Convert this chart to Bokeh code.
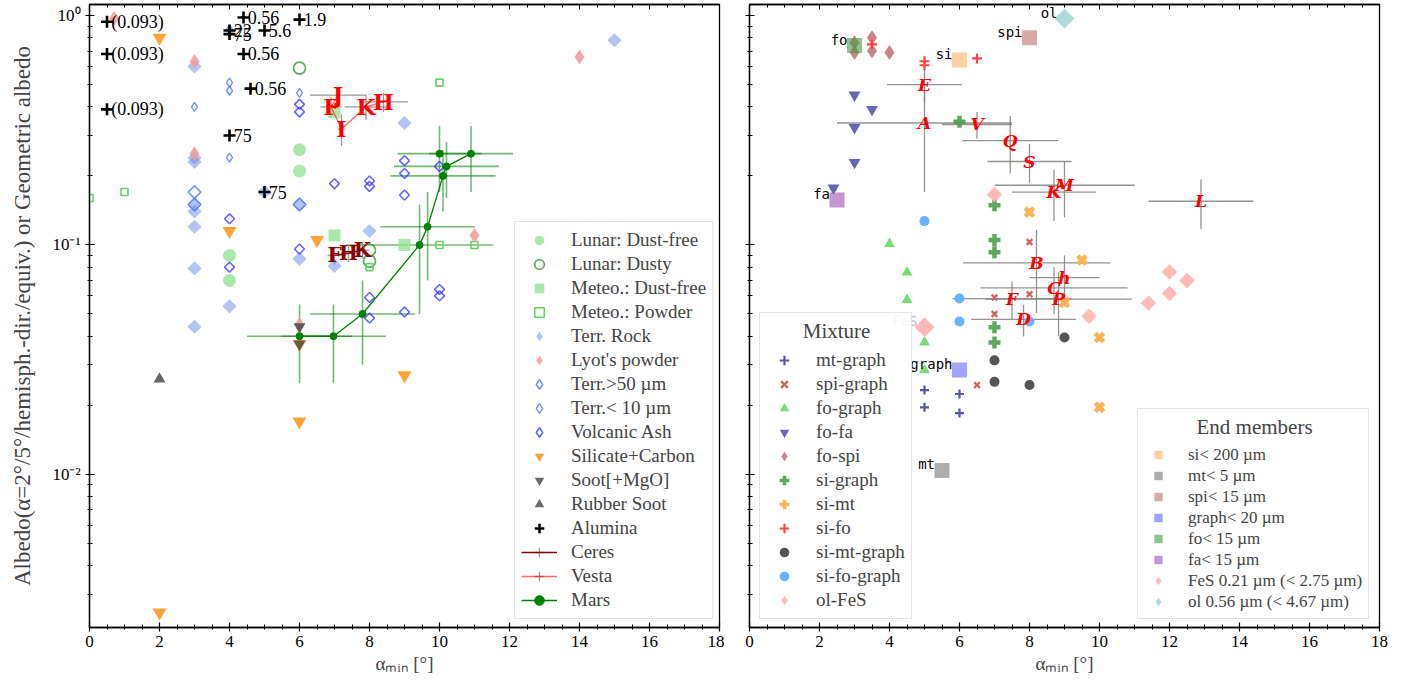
import numpy as np
from bokeh.plotting import figure
from bokeh.models import (Range1d, FixedTicker, SingleIntervalTicker, LinearAxis, Legend, LegendItem,
                          CustomLabelingPolicy)
from bokeh.layouts import row
from bokeh.embed import file_html
from bokeh.resources import INLINE
from bokeh.core.properties import value

SERIF = "Liberation Serif"
MONO = "DejaVu Sans Mono"
NB = "\u00a0"

X_MIN, X_MAX = 0, 18
Y_MIN, Y_MAX = 0.00215, 1.117
MAJOR_Y = [0.01, 0.1, 1.0]
Y_LABELS = ["10⁻²", "10⁻¹", "10⁰"]

# ---------------- left panel data ----------------
lunar_df_x = [6, 6, 4, 4]
lunar_df_y = [0.26, 0.21, 0.09, 0.07]
lunar_dusty_x = [6, 8, 8]
lunar_dusty_y = [0.59, 0.095, 0.085]
meteo_df_x = [7, 9, 7]
meteo_df_y = [0.11, 0.10, 0.38]
meteo_pw_x = [0, 1, 10, 10, 11, 8]
meteo_pw_y = [0.16, 0.17, 0.51, 0.10, 0.10, 0.08]
terr_rock_x = [3, 3, 3, 3, 3, 3, 3, 3, 4, 5, 6, 6, 7, 8, 9, 15]
terr_rock_y = [0.60, 0.24, 0.23, 0.15, 0.14, 0.12, 0.079, 0.044, 0.054, 0.17, 0.15, 0.087, 0.081, 0.115, 0.34, 0.78]
lyot_x = [0.7, 3, 3, 6, 11, 14]
lyot_y = [0.97, 0.63, 0.25, 0.045, 0.11, 0.66]
terr50_x = [3, 3, 6]
terr50_y = [0.17, 0.15, 0.15]
terr10_x = [4, 4, 4, 4, 3, 6]
terr10_y = [0.87, 0.51, 0.47, 0.24, 0.40, 0.46]
ash_x = [4, 4, 6, 6, 6, 7, 8, 8, 8, 8, 9, 9, 9, 9, 10, 10, 10]
ash_y = [0.13, 0.08, 0.41, 0.38, 0.096, 0.185, 0.19, 0.18, 0.059, 0.048, 0.233, 0.205, 0.165, 0.051, 0.22, 0.064, 0.060]
silcarb_x = [2, 2, 4, 6.5, 6, 9, 6]
silcarb_y = [0.80, 0.0025, 0.115, 0.105, 0.017, 0.027, 0.037]
soot_x = [6, 6]
soot_y = [0.044, 0.037]
rubber_x = [2]
rubber_y = [0.026]
alumina_x = [0.5, 0.5, 0.5, 4.4, 4.0, 4.0, 5.0, 4.4, 4.6, 4.0, 5.0, 6.0]
alumina_y = [0.94, 0.68, 0.39, 0.98, 0.86, 0.83, 0.86, 0.68, 0.48, 0.30, 0.17, 0.96]
alumina_lab = ["(0.093)", "(0.093)", "(0.093)", "0.56", "22", "75", "5.6", "0.56", "0.56", "75", "75", "1.9"]

mars_x = [6.0, 6.97, 7.8, 9.43, 9.66, 10.1, 10.2, 10.9]
mars_y = [0.040, 0.040, 0.050, 0.100, 0.120, 0.200, 0.220, 0.250]
mars_xerr = [1.5, 1.5, 1.5, 2.1, 1.35, 1.5, 1.5, 1.2]
mars_yerr = [0.015, 0.015, 0.02, 0.05, 0.05, 0.06, 0.06, 0.08]
mars2_x = [10.0]
mars2_y = [0.250]
mars2_xerr = [1.2]
mars2_yerr = [0.08]

ceres_lab = ["F", "H", "K"]
ceres_x = [7.0, 7.4, 7.8]
ceres_y = [0.090, 0.092, 0.095]
ceres_xerr = [0.2, 0.2, 0.2]
ceres_yerr = [0.008, 0.008, 0.008]

vesta_lab = ["J", "F", "I", "K", "H"]
vesta_x = [7.1, 6.9, 7.2, 7.9, 8.4]
vesta_y = [0.45, 0.40, 0.32, 0.40, 0.42]
vesta_xerr = [0.8, 0.3, 0.1, 0.6, 0.7]
vesta_yerr = [0.02, 0.04, 0.05, 0.05, 0.04]

# ---------------- right panel data ----------------
mtgraph_x = [5.0, 5.0, 6.0, 6.0]
mtgraph_y = [0.0233, 0.0196, 0.0224, 0.0185]
spigraph_x = [6.5, 7.0, 7.0, 8.0, 8.0]
spigraph_y = [0.0245, 0.059, 0.050, 0.103, 0.061]
fograph_x = [4.0, 4.5, 4.5, 5.0, 5.0]
fograph_y = [0.101, 0.076, 0.0577, 0.0376, 0.0285]
fofa_x = [3.0, 3.5, 3.0, 3.0, 2.4]
fofa_y = [0.45, 0.39, 0.325, 0.229, 0.177]
fospi_x = [3.0, 3.0, 3.5, 3.5, 4.0]
fospi_y = [0.76, 0.69, 0.80, 0.70, 0.69]
sigraph_x = [6.0, 7.0, 7.0, 7.0, 7.0, 7.0]
sigraph_y = [0.344, 0.149, 0.105, 0.093, 0.0438, 0.0376]
simt_x = [8.0, 9.5, 9.0, 10.0, 10.0]
simt_y = [0.139, 0.086, 0.0561, 0.0395, 0.0196]
sifo_x = [3.5, 5.0, 5.0, 6.5]
sifo_y = [0.749, 0.632, 0.607, 0.65]
simtgraph_x = [7.0, 7.0, 8.0, 9.0]
simtgraph_y = [0.0314, 0.0253, 0.0245, 0.0395]
sifograph_x = [5.0, 6.0, 6.0, 8.0]
sifograph_y = [0.127, 0.0584, 0.0464, 0.0464]
olfes_x = [7.0, 9.7, 11.4, 12.0, 12.0, 12.5]
olfes_y = [0.166, 0.0489, 0.0558, 0.0763, 0.0614, 0.0699]

ast_lab = ["E", "A", "V", "Q", "S", "K", "M", "L", "B", "h", "C", "P", "F", "D"]
ast_x = [5.0, 5.0, 6.5, 7.45, 8.0, 8.7, 9.0, 12.9, 8.2, 9.0, 8.7, 8.83, 7.5, 7.83]
ast_y = [0.50, 0.34, 0.335, 0.285, 0.231, 0.17, 0.182, 0.155, 0.0835, 0.072, 0.065, 0.058, 0.0584, 0.0474]
ast_xerr = [1.07, 2.5, 1.0, 1.37, 1.2, 1.2, 2.0, 1.5, 2.1, 1.0, 2.1, 2.1, 1.7, 1.5]
ast_yerr = [0.08, 0.17, 0.045, 0.08, 0.045, 0.043, 0.05, 0.038, 0.033, 0.018, 0.015, 0.018, 0.011, 0.0075]

em_lab = ["si", "mt", "spi", "graph", "fo", "fa"]
em_legend = ["si< 200 µm", "mt< 5 µm", "spi< 15 µm", "graph< 20 µm", "fo< 15 µm", "fa< 15 µm"]
em_x = [6.0, 5.5, 8.0, 6.0, 3.0, 2.5]
em_y = [0.64, 0.0104, 0.80, 0.0285, 0.74, 0.157]
em_colors = ["#ffb060", "#777777", "#c07070", "#6666ff", "#449944", "#a050b0"]
fes_x, fes_y = [5.0], [0.0438]
ol_x, ol_y = [9.0], [0.97]

# ---------------------------------------------------------------
MINOR_Y = [k * 10.0 ** e for e in (-3, -2, -1, 0) for k in range(2, 10) if Y_MIN <= k * 10.0 ** e <= Y_MAX]
NO_LABELS = "for (const i of indices) { indices.unset(i) }\nreturn indices"


def base_fig(min_left, min_right, show_y):
    p = figure(frame_width=630, frame_height=623,
               x_range=Range1d(X_MIN, X_MAX), y_range=Range1d(Y_MIN, Y_MAX),
               y_axis_type="log", output_backend="svg", toolbar_location=None,
               min_border_left=min_left, min_border_right=min_right,
               min_border_top=3, min_border_bottom=50)
    p.grid.visible = False
    p.outline_line_color = "black"
    p.outline_line_width = 1.3
    p.xaxis.ticker = SingleIntervalTicker(interval=2, num_minor_ticks=4)
    p.yaxis.ticker = FixedTicker(ticks=MAJOR_Y, minor_ticks=MINOR_Y)
    p.yaxis.major_label_overrides = {t: l for t, l in zip(MAJOR_Y, Y_LABELS)}
    for ax in (p.xaxis[0], p.yaxis[0]):
        ax.major_tick_in = 5
        ax.major_tick_out = 4
        ax.minor_tick_in = 3
        ax.minor_tick_out = 2
        ax.major_tick_line_width = 1.2
        ax.axis_line_width = 1.3
        ax.major_label_text_font = SERIF
        ax.major_label_text_font_size = "17px"
        ax.major_label_text_color = "black"
        ax.axis_label_text_font = SERIF
        ax.axis_label_text_font_size = "19px"
        ax.axis_label_text_font_style = "normal"
    p.xaxis.axis_label = "αₘᵢₙ [°]"
    p.xaxis.major_label_standoff = 4
    p.xaxis.axis_label_standoff = 3
    if show_y:
        p.yaxis.axis_label = "Albedo(α=2°/5°/hemisph.-dir./equiv.) or Geometric albedo"
        p.yaxis.axis_label_text_font_size = "23px"
        p.yaxis.axis_label_standoff = 14
    else:
        p.yaxis.major_label_policy = CustomLabelingPolicy(code=NO_LABELS)
        p.yaxis.major_label_text_font_size = "1px"
        p.yaxis.major_label_standoff = 0
    top = LinearAxis(ticker=SingleIntervalTicker(interval=2, num_minor_ticks=4),
                     major_label_policy=CustomLabelingPolicy(code=NO_LABELS),
                     major_label_text_font_size="1px", major_label_standoff=0,
                     major_tick_in=5, major_tick_out=0, minor_tick_in=3, minor_tick_out=0,
                     axis_line_width=1.3)
    p.add_layout(top, "above")
    return p


def errbars(p, x, y, xerr, yerr, color, alpha, width):
    x = np.asarray(x, float); y = np.asarray(y, float)
    xe = np.asarray(xerr, float); ye = np.asarray(yerr, float)
    p.segment(x0=x - xe, y0=y, x1=x + xe, y1=y, line_color=color, line_alpha=alpha, line_width=width)
    return p.segment(x0=x, y0=y - ye, x1=x, y1=y + ye, line_color=color, line_alpha=alpha, line_width=width)


def style_legend(lg, gh, fs):
    lg.label_text_font = SERIF
    lg.label_text_font_size = fs
    lg.glyph_height = gh
    lg.glyph_width = 36
    lg.label_height = gh
    lg.spacing = 0
    lg.padding = 6
    lg.margin = 0
    lg.label_standoff = 14
    lg.border_line_color = "#cccccc"
    lg.border_line_width = 1.3
    lg.background_fill_alpha = 0.85
    lg.title_text_font = SERIF
    lg.title_text_font_size = "21px"
    lg.title_text_font_style = "normal"
    lg.title_standoff = 4


# =================== LEFT ===================
p1 = base_fig(89, 5, True)

errbars(p1, mars_x, mars_y, mars_xerr, mars_yerr, "green", 0.55, 1.6)
errbars(p1, mars2_x, mars2_y, mars2_xerr, mars2_yerr, "green", 0.55, 1.6)
errbars(p1, vesta_x, vesta_y, vesta_xerr, vesta_yerr, "grey", 0.8, 1.3)
errbars(p1, ceres_x, ceres_y, ceres_xerr, ceres_yerr, "grey", 0.8, 1.3)

r_lunar_df = p1.scatter(lunar_df_x, lunar_df_y, marker="circle", size=13, fill_color="#8fe08f", fill_alpha=0.75, line_color=None)
r_lunar_dusty = p1.scatter(lunar_dusty_x, lunar_dusty_y, marker="circle", size=12, fill_color=None, line_color="#3a9a3a", line_alpha=0.8, line_width=1.8)
r_meteo_df = p1.scatter(meteo_df_x, meteo_df_y, marker="square", size=12, fill_color="#8fe08f", fill_alpha=0.75, line_color=None)
r_meteo_pw = p1.scatter(meteo_pw_x, meteo_pw_y, marker="square", size=7, fill_color=None, line_color="#66d066", line_width=1.6)
p1.scatter(terr_rock_x, terr_rock_y, marker="square", angle=np.pi / 4, size=10, fill_color="#6688ee", fill_alpha=0.5, line_color=None)
r_lyot = p1.scatter(lyot_x, lyot_y, marker="diamond", size=15, fill_color="#f29b9b", fill_alpha=0.85, line_color=None)
p1.scatter(terr50_x, terr50_y, marker="square", angle=np.pi / 4, size=9, fill_color=None, line_color="#5577ee", line_alpha=0.8, line_width=1.6)
r_terr10 = p1.scatter(terr10_x, terr10_y, marker="diamond", size=9, fill_color=None, line_color="#5577ee", line_alpha=0.8, line_width=1.4)
p1.scatter(ash_x, ash_y, marker="square", angle=np.pi / 4, size=7, fill_color=None, line_color="#3333ff", line_alpha=0.75, line_width=1.6)
r_silcarb = p1.scatter(silcarb_x, silcarb_y, marker="inverted_triangle", size=14, fill_color="#ff9922", fill_alpha=0.9, line_color=None)
r_soot = p1.scatter(soot_x, soot_y, marker="inverted_triangle", size=12, fill_color="#444444", fill_alpha=0.8, line_color=None)
r_rubber = p1.scatter(rubber_x, rubber_y, marker="triangle", size=12, fill_color="#444444", fill_alpha=0.8, line_color=None)
r_alumina = p1.scatter(alumina_x, alumina_y, marker="cross", size=12, line_color="black", line_width=2.6)
p1.text(np.asarray(alumina_x) + 0.12, alumina_y, text=alumina_lab, text_font=value(SERIF),
        text_font_size="18px", text_align="left", text_baseline="middle", text_color="black")

# legend-only glyphs: same data, zero size in the plot (legend draws markers at its own size)
lg_terr_rock = p1.scatter(terr_rock_x, terr_rock_y, marker="diamond", size=0, fill_color="#6688ee", fill_alpha=0.5, line_color=None)
lg_terr50 = p1.scatter(terr50_x, terr50_y, marker="diamond", size=0, fill_color=None, line_color="#5577ee", line_alpha=0.8, line_width=1.6)
lg_ash = p1.scatter(ash_x, ash_y, marker="diamond", size=0, fill_color=None, line_color="#3333ff", line_alpha=0.75, line_width=1.6)
lg_ceres = p1.scatter(ceres_x, ceres_y, marker="cross", size=0, line_color="grey", line_alpha=0.8, line_width=1.3)
lg_vesta = p1.scatter(vesta_x, vesta_y, marker="cross", size=0, line_color="grey", line_alpha=0.8, line_width=1.3)
lg_mars = p1.scatter(mars_x, mars_y, marker="cross", size=0, line_color="green", line_alpha=0.6, line_width=1.5)

r_mars_line = p1.line(mars_x, mars_y, line_color="green", line_width=1.3)
r_mars_pts = p1.scatter(mars_x, mars_y, marker="circle", size=7, fill_color="green", line_color="green")
p1.scatter(mars2_x, mars2_y, marker="circle", size=7, fill_color="green", line_color="green")

r_vesta_line = p1.line(vesta_x, vesta_y, line_color="red", line_alpha=0.6, line_width=1.3)
p1.text(vesta_x, vesta_y, text=vesta_lab, text_font=value("DejaVu Serif"), text_font_style="bold",
        text_font_size="22px", text_align="center", text_baseline="middle", text_color="red")

r_ceres_line = p1.line(ceres_x, ceres_y, line_color="#8b0000", line_width=1.3)
p1.text(ceres_x, ceres_y, text=ceres_lab, text_font=value("DejaVu Serif"), text_font_style="bold",
        text_font_size="20px", text_align="center", text_baseline="middle", text_color="#8b0000")

leg1 = Legend(items=[
    LegendItem(label="Lunar: Dust-free", renderers=[r_lunar_df]),
    LegendItem(label="Lunar: Dusty", renderers=[r_lunar_dusty]),
    LegendItem(label="Meteo.: Dust-free", renderers=[r_meteo_df]),
    LegendItem(label="Meteo.: Powder", renderers=[r_meteo_pw]),
    LegendItem(label="Terr. Rock", renderers=[lg_terr_rock]),
    LegendItem(label="Lyot's powder", renderers=[r_lyot]),
    LegendItem(label="Terr.>50 µm", renderers=[lg_terr50]),
    LegendItem(label="Terr.< 10 µm", renderers=[r_terr10]),
    LegendItem(label="Volcanic Ash", renderers=[lg_ash]),
    LegendItem(label="Silicate+Carbon", renderers=[r_silcarb]),
    LegendItem(label="Soot[+MgO]", renderers=[r_soot]),
    LegendItem(label="Rubber Soot", renderers=[r_rubber]),
    LegendItem(label="Alumina", renderers=[r_alumina]),
    LegendItem(label="Ceres", renderers=[lg_ceres, r_ceres_line]),
    LegendItem(label="Vesta", renderers=[lg_vesta, r_vesta_line]),
    LegendItem(label="Mars", renderers=[lg_mars, r_mars_line, r_mars_pts]),
], location=(425, 8))
style_legend(leg1, 24, "19px")
p1.add_layout(leg1, "center")

# =================== RIGHT ===================
p2 = base_fig(25, 10, False)

errbars(p2, ast_x, ast_y, ast_xerr, ast_yerr, "grey", 0.85, 1.3)

r_mtgraph = p2.scatter(mtgraph_x, mtgraph_y, marker="cross", size=9, line_color="#5555aa", line_width=2.2)
r_spigraph = p2.scatter(spigraph_x, spigraph_y, marker="x", size=8, line_color="#cc6666", line_width=2.4)
r_fograph = p2.scatter(fograph_x, fograph_y, marker="triangle", size=11, fill_color="#77dd77", line_color=None)
r_fofa = p2.scatter(fofa_x, fofa_y, marker="inverted_triangle", size=12, fill_color="#5555aa", fill_alpha=0.9, line_color=None)
r_fospi = p2.scatter(fospi_x, fospi_y, marker="diamond", size=15, fill_color="#c07070", fill_alpha=0.85, line_color=None)
r_sigraph = p2.scatter(sigraph_x, sigraph_y, marker="plus", size=12, fill_color="#4a9e4a", fill_alpha=0.9, line_color=None)
r_simt = p2.scatter(simt_x, simt_y, marker="plus", angle=np.pi / 4, size=12, fill_color="#ffaa44", fill_alpha=0.9, line_color=None)
r_sifo = p2.scatter(sifo_x, sifo_y, marker="cross", size=10, line_color="#ff4444", line_width=2.2)
r_simtgraph = p2.scatter(simtgraph_x, simtgraph_y, marker="circle", size=10, fill_color="#555555", line_color=None)
r_sifograph = p2.scatter(sifograph_x, sifograph_y, marker="circle", size=10, fill_color="#66b3ff", line_color=None)
p2.scatter(olfes_x, olfes_y, marker="square", angle=np.pi / 4, size=11, fill_color="#ffb0aa", fill_alpha=0.85, line_color=None)

em_r = []
for i in range(len(em_lab)):
    em_r.append(p2.scatter(em_x[i:i + 1], em_y[i:i + 1], marker="square", size=15,
                           fill_color=em_colors[i], fill_alpha=0.6, line_color=None))
p2.scatter(fes_x, fes_y, marker="square", angle=np.pi / 4, size=14, fill_color="#ff9999", fill_alpha=0.7, line_color=None)
p2.scatter(ol_x, ol_y, marker="square", angle=np.pi / 4, size=14, fill_color="#88cccc", fill_alpha=0.7, line_color=None)

lg_olfes = p2.scatter(olfes_x, olfes_y, marker="diamond", size=0, fill_color="#ffb0aa", fill_alpha=0.85, line_color=None)
lg_fes = p2.scatter(fes_x, fes_y, marker="diamond", size=0, fill_color="#ff9999", fill_alpha=0.7, line_color=None)
lg_ol = p2.scatter(ol_x, ol_y, marker="diamond", size=0, fill_color="#88cccc", fill_alpha=0.7, line_color=None)

p2.text(em_x, em_y, text=em_lab, text_font=value(MONO), text_font_size="14px",
        text_align="right", text_baseline="bottom", x_offset=-7, y_offset=2, text_color="black")
p2.text(fes_x, fes_y, text=["FeS"], text_font=value(MONO), text_font_size="14px",
        text_align="right", text_baseline="bottom", x_offset=-7, y_offset=2, text_color="#bbbbbb")
p2.text(ol_x, ol_y, text=["ol"], text_font=value(MONO), text_font_size="14px",
        text_align="right", text_baseline="bottom", x_offset=-7, y_offset=2, text_color="black")

p2.text(ast_x, ast_y, text=ast_lab, text_font=value("DejaVu Serif"), text_font_style="bold italic",
        text_font_size="17px", text_align="center", text_baseline="middle", text_color="red")

leg2 = Legend(items=[
    LegendItem(label="mt-graph", renderers=[r_mtgraph]),
    LegendItem(label="spi-graph", renderers=[r_spigraph]),
    LegendItem(label="fo-graph", renderers=[r_fograph]),
    LegendItem(label="fo-fa", renderers=[r_fofa]),
    LegendItem(label="fo-spi", renderers=[r_fospi]),
    LegendItem(label="si-graph", renderers=[r_sigraph]),
    LegendItem(label="si-mt", renderers=[r_simt]),
    LegendItem(label="si-fo", renderers=[r_sifo]),
    LegendItem(label="si-mt-graph", renderers=[r_simtgraph]),
    LegendItem(label="si-fo-graph", renderers=[r_sifograph]),
    LegendItem(label="ol-FeS", renderers=[lg_olfes]),
], location=(10, 8), title=NB * 7 + "Mixture")
style_legend(leg2, 24, "19px")
p2.add_layout(leg2, "center")

em_items = [LegendItem(label=em_legend[i], renderers=[em_r[i]]) for i in range(len(em_lab))]
em_items.append(LegendItem(label="FeS 0.21 µm (< 2.75 µm)", renderers=[lg_fes]))
em_items.append(LegendItem(label="ol 0.56 µm (< 4.67 µm)", renderers=[lg_ol]))
leg3 = Legend(items=em_items, location=(388, 8), title=NB * 10 + "End members")
style_legend(leg3, 21, "17px")
leg3.glyph_width = 28
leg3.label_standoff = 16
p2.add_layout(leg3, "center")

layout = row(p1, p2)
open("out.html", "w").write(file_html(layout, INLINE))
